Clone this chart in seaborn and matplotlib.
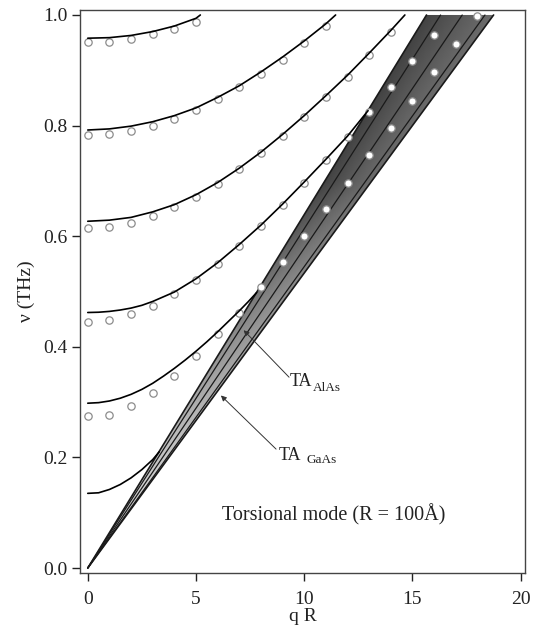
import matplotlib

matplotlib.use("Agg")

import matplotlib.pyplot as plt
import numpy as np
import pandas as pd
import seaborn as sns
from matplotlib.patches import Polygon

# continuum-theory branches (solid lines), qR vs nu in THz
branch_a_q = [0, 1, 2, 3, 4, 5, 5.2]
branch_a_nu = [0.958, 0.959, 0.963, 0.970, 0.980, 0.994, 1.0]
branch_b_q = [0, 1, 2, 3, 4, 5, 6, 7, 8, 9, 10, 11, 11.45]
branch_b_nu = [0.792, 0.794, 0.799, 0.807, 0.818, 0.832, 0.851, 0.872, 0.897, 0.924, 0.953, 0.984, 1.0]
branch_c_q = [0, 1, 2, 3, 4, 5, 6, 7, 8, 9, 10, 11, 12, 13, 14, 14.65]
branch_c_nu = [0.627, 0.629, 0.634, 0.644, 0.657, 0.675, 0.697, 0.723, 0.752, 0.784, 0.818, 0.854, 0.891,
               0.931, 0.972, 1.0]
branch_d_q = [0, 0.5, 1, 1.5, 2, 2.5, 3, 4, 5, 6, 7, 8, 9, 10, 11, 12, 12.95]
branch_d_nu = [0.462, 0.4625, 0.464, 0.4665, 0.470, 0.475, 0.482, 0.499, 0.523, 0.552, 0.585, 0.620, 0.658,
               0.698, 0.739, 0.781, 0.827]
branch_e_q = [0, 0.5, 1, 1.5, 2, 2.5, 3, 3.5, 4, 4.5, 5, 5.5, 6, 6.5, 7, 7.4, 7.8]
branch_e_nu = [0.298, 0.299, 0.302, 0.307, 0.314, 0.323, 0.334, 0.347, 0.361, 0.376, 0.392, 0.409, 0.427,
               0.446, 0.465, 0.481, 0.498]
branch_f_q = [0, 0.5, 1, 1.5, 2, 2.5, 3, 3.3]
branch_f_nu = [0.135, 0.136, 0.142, 0.151, 0.163, 0.178, 0.196, 0.210]

# atomistic results (open circles)
dots_a_q = [0, 1, 2, 3, 4, 5]
dots_a_nu = [0.951, 0.952, 0.957, 0.965, 0.975, 0.987]
dots_b_q = [0, 1, 2, 3, 4, 5, 6, 7, 8, 9, 10, 11]
dots_b_nu = [0.783, 0.785, 0.790, 0.800, 0.812, 0.828, 0.848, 0.869, 0.893, 0.919, 0.949, 0.980]
dots_c_q = [0, 1, 2, 3, 4, 5, 6, 7, 8, 9, 10, 11, 12, 13, 14]
dots_c_nu = [0.615, 0.617, 0.624, 0.637, 0.652, 0.671, 0.694, 0.721, 0.750, 0.781, 0.816, 0.851, 0.888,
             0.928, 0.969]
dots_d_q = [0, 1, 2, 3, 4, 5, 6, 7, 8, 9, 10, 11, 12, 13, 14, 15, 16]
dots_d_nu = [0.445, 0.448, 0.459, 0.474, 0.495, 0.521, 0.550, 0.583, 0.618, 0.656, 0.696, 0.737, 0.779,
             0.825, 0.869, 0.917, 0.963]
dots_e_q = [0, 1, 2, 3, 4, 5, 6, 7, 8, 9, 10, 11, 12, 13, 14, 15, 16, 17, 18]
dots_e_nu = [0.274, 0.277, 0.293, 0.317, 0.348, 0.384, 0.423, 0.462, 0.509, 0.554, 0.600, 0.649, 0.696,
             0.746, 0.796, 0.845, 0.896, 0.947, 0.998]

# bulk TA lines through the origin: qR where each reaches nu = 1 THz
ta_nu_top = 1.0
ta_edge_q_top = [15.65, 18.75]
ta_inner_q_top = [16.3, 17.3, 18.35]

x_ticks = [0, 5, 10, 15, 20]
y_ticks = [0.0, 0.2, 0.4, 0.6, 0.8, 1.0]


def long_frame(pairs):
    parts = [pd.DataFrame({"qR": q, "nu": nu, "branch": name}) for name, q, nu in pairs]
    return pd.concat(parts, ignore_index=True)


def band_texture(q_left, q_right):
    # grey level: light near the origin, dark higher up, a bit lighter toward the GaAs side
    qq, nn = np.meshgrid(np.linspace(0.01, x_ticks[-1], 500), np.linspace(0.005, ta_nu_top, 500))
    s_left, s_right = ta_nu_top / q_left, ta_nu_top / q_right
    across = np.clip((s_left - nn / qq) / (s_left - s_right), 0, 1)
    height = np.clip((nn - 0.15) / 0.55, 0, 1)
    level = 0.82 - 0.56 * height + 0.16 * across * height
    return level


def main() -> None:
    sns.set_theme(style="white")
    plt.rcParams["font.family"] = ["Liberation Serif", "DejaVu Serif"]
    plt.rcParams["mathtext.fontset"] = "stix"

    fig = plt.figure(figsize=(5.35, 6.37), dpi=100)
    ax = fig.add_axes([0.1495, 0.1005, 0.8318, 0.8838])

    # shaded band between the two bulk TA lines
    band = Polygon(
        [(0, 0), (ta_edge_q_top[0], ta_nu_top), (ta_edge_q_top[1], ta_nu_top)],
        closed=True, facecolor="none", edgecolor="none",
    )
    ax.add_patch(band)
    img = ax.imshow(band_texture(*ta_edge_q_top), extent=[0, x_ticks[-1], 0, ta_nu_top], origin="lower",
                    cmap="gray", vmin=0, vmax=1, aspect="auto", zorder=1, interpolation="bilinear")
    img.set_clip_path(band)

    edges = long_frame([(f"e{i}", [0, q], [0, ta_nu_top]) for i, q in enumerate(ta_edge_q_top)])
    inner = long_frame([(f"i{i}", [0, q], [0, ta_nu_top]) for i, q in enumerate(ta_inner_q_top)])
    sns.lineplot(data=edges, x="qR", y="nu", units="branch", estimator=None, sort=False,
                 color="#1a1a1a", lw=1.2, ax=ax, zorder=2)
    sns.lineplot(data=inner, x="qR", y="nu", units="branch", estimator=None, sort=False,
                 color="#1a1a1a", lw=0.9, ax=ax, zorder=2)

    dots = long_frame([
        ("a", dots_a_q, dots_a_nu), ("b", dots_b_q, dots_b_nu), ("c", dots_c_q, dots_c_nu),
        ("d", dots_d_q, dots_d_nu), ("e", dots_e_q, dots_e_nu),
    ])
    sns.scatterplot(data=dots, x="qR", y="nu", s=28, facecolor="white", edgecolor="#8c8c8c",
                    linewidth=0.9, ax=ax, zorder=3)

    lines = long_frame([
        ("a", branch_a_q, branch_a_nu), ("b", branch_b_q, branch_b_nu), ("c", branch_c_q, branch_c_nu),
        ("d", branch_d_q, branch_d_nu), ("e", branch_e_q, branch_e_nu), ("f", branch_f_q, branch_f_nu),
    ])
    sns.lineplot(data=lines, x="qR", y="nu", units="branch", estimator=None, sort=False,
                 color="black", lw=1.2, ax=ax, zorder=4)

    ink = "#222222"
    arrow = dict(arrowstyle="-|>", lw=0.7, color="#333333", mutation_scale=8, shrinkA=0, shrinkB=0)
    ax.annotate("", xy=(7.2, 0.43), xytext=(9.3, 0.345), arrowprops=arrow, zorder=5)
    ax.annotate("", xy=(6.15, 0.312), xytext=(8.7, 0.215), arrowprops=arrow, zorder=5)
    ta_alas = ax.text(9.35, 0.337, "TA", fontsize=13, va="center", ha="left", color=ink)
    ax.annotate("AlAs", xy=(1.0, 0.0), xycoords=ta_alas, xytext=(0.5, -2.5), textcoords="offset points",
                fontsize=9.5, va="bottom", ha="left", color=ink)
    ta_gaas = ax.text(8.8, 0.203, "TA", fontsize=13, va="center", ha="left", color=ink)
    ax.annotate("GaAs", xy=(1.0, 0.0), xycoords=ta_gaas, xytext=(4, -1.5), textcoords="offset points",
                fontsize=9.5, va="bottom", ha="left", color=ink)
    ax.text(6.2, 0.096, "Torsional mode (R = 100Å)", fontsize=14.5, va="center", ha="left", color=ink)

    ax.set_xlim(-0.36, 20.2)
    ax.set_ylim(-0.009, 1.009)
    ax.set_xticks(x_ticks)
    ax.set_yticks(y_ticks)
    ax.set_yticklabels([f"{v:.1f}" for v in y_ticks])
    ax.set_xlabel("q R", fontsize=14, labelpad=0, color=ink)
    ax.set_ylabel("ν (THz)", fontsize=14, labelpad=6, color=ink)
    ax.tick_params(bottom=True, left=True, direction="out", length=6, width=1.0, labelsize=14,
                   colors=ink, pad=3)
    ax.tick_params(axis="x", pad=7)
    for spine in ax.spines.values():
        spine.set_color("#444444")
        spine.set_linewidth(1.0)

    fig.savefig("out.png", dpi=100)
    plt.close(fig)


if __name__ == "__main__":
    main()
